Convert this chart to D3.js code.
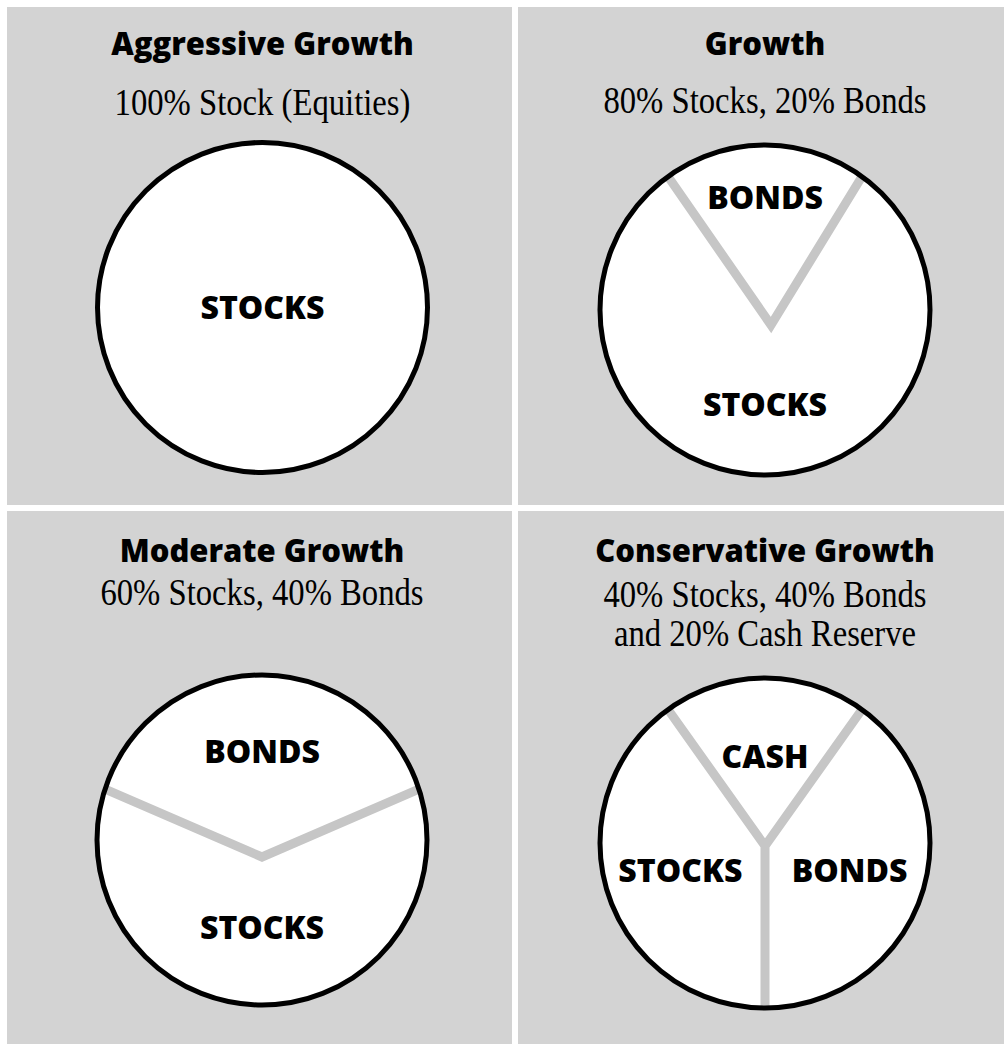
<!DOCTYPE html>
<html>
<head>
<meta charset="utf-8">
<script src="https://cdn.jsdelivr.net/npm/d3@7"></script>
<style>
  html, body { margin: 0; padding: 0; background: #ffffff; }
  svg { display: block; }
</style>
</head>
<body>
<div id="chart"></div>
<script>
// ---------------- DATA ----------------
const panelTitles = ["Aggressive Growth", "Growth", "Moderate Growth", "Conservative Growth"];
const panelSubtitles = [
  ["100% Stock (Equities)"],
  ["80% Stocks, 20% Bonds"],
  ["60% Stocks, 40% Bonds"],
  ["40% Stocks, 40% Bonds", "and 20% Cash Reserve"]
];
// first slice of each pie is centred at the top
const sliceLabels = [
  ["STOCKS"],
  ["BONDS", "STOCKS"],
  ["BONDS", "STOCKS"],
  ["CASH", "BONDS", "STOCKS"]
];
const sliceValues = [
  [100],
  [20, 80],
  [40, 60],
  [20, 40, 40]
];

// ---------------- LAYOUT / STYLE ----------------
const W = 1004, H = 1044;
const layout = [
  { x: 7,   y: 7,   w: 505, h: 498, cx: 262.5, cy: 307.5, titleY: 55,  subY: [115],      vtx: [0, 0],  labelR: [0] },
  { x: 518, y: 7,   w: 486, h: 498, cx: 765,   cy: 310,   titleY: 55,  subY: [113],      vtx: [6, 15], labelR: [112, 95] },
  { x: 7,   y: 511, w: 505, h: 533, cx: 262,   cy: 840,   titleY: 562, subY: [605],      vtx: [0, 17], labelR: [88, 88] },
  { x: 518, y: 511, w: 486, h: 533, cx: 765,   cy: 843,   titleY: 562, subY: [607, 646], vtx: [0, 3],  labelR: [86, 89, 89] }
];
const R = 165;
const bgGray = "#d3d3d3";
const dividerGray = "#c6c6c6";
const titleFont = "'Open Sans', 'DejaVu Sans', sans-serif";
const serifFont = "'Liberation Serif', 'DejaVu Serif', serif";
const titleSize = 31, labelSize = 32, subSize = 38, subSqueeze = 0.86;

const svg = d3.select("#chart").append("svg")
  .attr("width", W).attr("height", H)
  .attr("viewBox", `0 0 ${W} ${H}`);

svg.append("rect").attr("width", W).attr("height", H).attr("fill", "#ffffff");

layout.forEach((L, i) => {
  const g = svg.append("g");
  g.append("rect")
    .attr("x", L.x).attr("y", L.y).attr("width", L.w).attr("height", L.h)
    .attr("fill", bgGray);

  g.append("text")
    .attr("x", L.cx).attr("y", L.titleY)
    .attr("text-anchor", "middle")
    .attr("font-family", titleFont)
    .attr("font-weight", 800)
    .attr("font-size", titleSize)
    .attr("fill", "#000")
    .text(panelTitles[i]);

  panelSubtitles[i].forEach((s, j) => {
    const t = g.append("text")
      .attr("x", L.cx).attr("y", L.subY[j])
      .attr("text-anchor", "middle")
      .attr("font-family", serifFont)
      .attr("font-size", subSize)
      .attr("fill", "#000")
      .text(s);
    const len = t.node().getComputedTextLength();
    t.attr("textLength", len * subSqueeze).attr("lengthAdjust", "spacingAndGlyphs");
  });

  const vals = sliceValues[i];
  const total = d3.sum(vals);
  const start = -Math.PI * vals[0] / total;
  const arcs = d3.pie().sort(null).value(d => d)
    .startAngle(start).endAngle(start + 2 * Math.PI)(vals);

  const cg = g.append("g").attr("transform", `translate(${L.cx},${L.cy})`);
  cg.append("circle").attr("r", R).attr("fill", "#ffffff");

  if (arcs.length > 1) {
    const pt = a => [R * Math.sin(a), -R * Math.cos(a)];
    const v = L.vtx;
    const e0 = pt(arcs[0].startAngle), e1 = pt(arcs[0].endAngle);
    let d = `M${e0[0]},${e0[1]}L${v[0]},${v[1]}L${e1[0]},${e1[1]}`;
    for (let k = 1; k < arcs.length - 1; k++) {
      const e = pt(arcs[k].endAngle);
      d += `M${v[0]},${v[1]}L${e[0]},${e[1]}`;
    }
    cg.append("path").attr("d", d)
      .attr("fill", "none")
      .attr("stroke", dividerGray)
      .attr("stroke-width", 9)
      .attr("stroke-linejoin", "miter")
      .attr("stroke-linecap", "butt");
  }

  cg.append("circle").attr("r", R)
    .attr("fill", "none").attr("stroke", "#000").attr("stroke-width", 5);

  arcs.forEach((a, k) => {
    const mid = (a.startAngle + a.endAngle) / 2;
    const lr = L.labelR[k];
    const x = arcs.length > 1 ? lr * Math.sin(mid) : 0;
    const y = arcs.length > 1 ? -lr * Math.cos(mid) : 0;
    cg.append("text")
      .attr("x", x).attr("y", y + labelSize * 0.357)
      .attr("text-anchor", "middle")
      .attr("font-family", titleFont)
      .attr("font-weight", 800)
      .attr("font-size", labelSize)
      .attr("fill", "#000")
      .text(sliceLabels[i][k]);
  });
});
</script>
</body>
</html>
